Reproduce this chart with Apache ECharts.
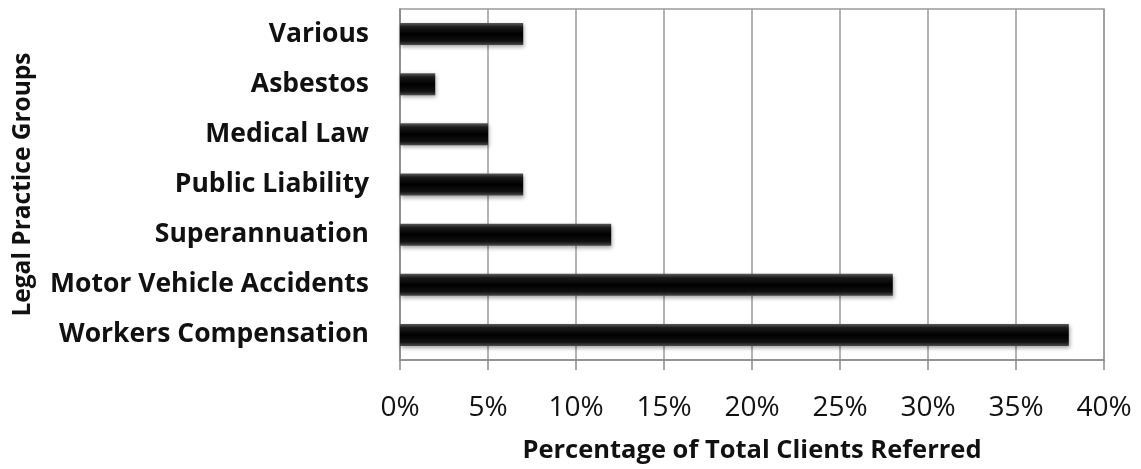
<!DOCTYPE html>
<html>
<head>
	<meta charset="utf-8">
	<title>Legal Practice Groups</title>
	<script src="https://cdn.jsdelivr.net/npm/echarts@6/dist/echarts.min.js"></script>
	<style>
		html, body { margin: 0; padding: 0; background: #fff; }
		#chart { width: 1141px; height: 469px; }
	</style>
</head>
<body>
	<div id="chart"></div>
	<script>
		// bottom to top, as the category axis draws them
		var groups = ['Workers Compensation', 'Motor Vehicle Accidents', 'Superannuation',
			'Public Liability', 'Medical Law', 'Asbestos', 'Various'];
		var percents = [38, 28, 12, 7, 5, 2, 7];
		var xTicks = [0, 5, 10, 15, 20, 25, 30, 35, 40];

		var chart = echarts.init(document.getElementById('chart'));
		var font = '"Open Sans", "Noto Sans", sans-serif';

		var option = {
			animation: false,
			grid: {
				left: 400,
				right: 37,
				top: 9,
				bottom: 109,
				outerBoundsMode: 'none',
				show: true,
				borderColor: '#9a9a9a',
				borderWidth: 1.5
			},
			xAxis: {
				type: 'value',
				min: xTicks[0],
				max: xTicks[xTicks.length - 1],
				interval: 5,
				name: 'Percentage of Total Clients Referred',
				nameLocation: 'middle',
				nameGap: 78,
				nameTextStyle: { fontFamily: font, fontWeight: 'bold', fontSize: 25.5, color: '#111' },
				axisLine: { show: true, lineStyle: { color: '#8a8a8a', width: 1.5 } },
				axisTick: { show: true, inside: false, length: 10, lineStyle: { color: '#8a8a8a', width: 1.5 } },
				axisLabel: {
					margin: 34,
					fontFamily: font,
					fontSize: 28,
					color: '#111',
					formatter: function (v) { return v + '%'; }
				},
				splitLine: { show: true, lineStyle: { color: '#9a9a9a', width: 1.5 } }
			},
			yAxis: {
				type: 'category',
				data: groups,
				name: 'Legal Practice Groups',
				nameLocation: 'middle',
				nameGap: 364,
				nameRotate: 90,
				nameTextStyle: { fontFamily: font, fontWeight: 'bold', fontSize: 24.5, color: '#111' },
				axisLine: { show: true, lineStyle: { color: '#8a8a8a', width: 1.5 } },
				axisTick: { show: false },
				axisLabel: {
					margin: 31,
					fontFamily: font,
					fontWeight: 'bold',
					fontSize: 26.5,
					color: '#111'
				}
			},
			series: [{
				type: 'bar',
				data: percents,
				barWidth: 22,
				itemStyle: {
					color: new echarts.graphic.LinearGradient(0, 0, 0, 1, [
						{ offset: 0, color: '#5a5a5a' },
						{ offset: 0.18, color: '#1a1a1a' },
						{ offset: 0.5, color: '#000' },
						{ offset: 0.82, color: '#111' },
						{ offset: 1, color: '#4a4a4a' }
					]),
					shadowColor: 'rgba(0,0,0,0.35)',
					shadowBlur: 4,
					shadowOffsetX: 1,
					shadowOffsetY: 2
				}
			}]
		};

		chart.setOption(option);
	</script>
</body>
</html>
